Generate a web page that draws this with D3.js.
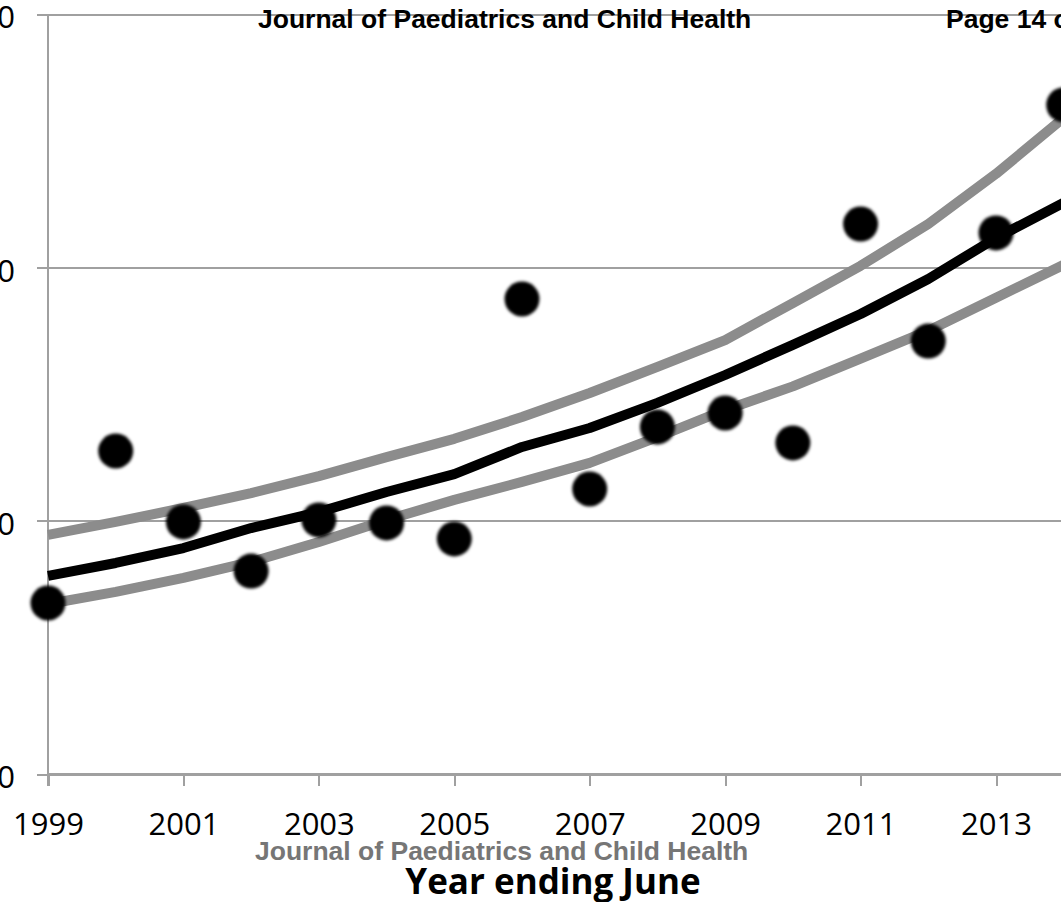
<!DOCTYPE html>
<meta charset="utf-8">
<style>
body { margin: 0; background: #fff; }
svg { display: block; }
.axis text { font-family: "Open Sans", sans-serif; font-size: 31px; fill: #000; }
.axis path, .axis line { fill: none; stroke: #a0a0a0; stroke-width: 2px; shape-rendering: crispEdges; }
.grid line { stroke: #a0a0a0; stroke-width: 2px; shape-rendering: crispEdges; }
.grid path { display: none; }
.watermark { font-family: "Liberation Sans", Arial, sans-serif; font-weight: bold; font-size: 26.5px; }
.title { font-family: "Open Sans", sans-serif; font-weight: bold; font-size: 35px; }
</style>
<body>
<svg></svg>
<script src="https://d3js.org/d3.v7.min.js"></script>
<script>

// data
var years    = [1999, 2000, 2001, 2002, 2003, 2004, 2005, 2006, 2007, 2008, 2009, 2010, 2011, 2012, 2013, 2014];
var observed = [6.75, 12.75, 9.95, 8.01, 10.03, 9.91, 9.28, 18.75, 11.25, 13.70, 14.25, 13.07, 21.71, 17.09, 21.36, 26.41];
var fitted   = [7.82, 8.33, 8.92, 9.71, 10.34, 11.13, 11.84, 12.91, 13.66, 14.65, 15.75, 16.94, 18.16, 19.54, 21.16, 22.55];
var upperCI  = [9.44, 9.95, 10.50, 11.09, 11.76, 12.51, 13.23, 14.09, 15.04, 16.07, 17.13, 18.59, 20.06, 21.71, 23.69, 25.90];
var lowerCI  = [6.71, 7.19, 7.74, 8.37, 9.16, 10.03, 10.82, 11.53, 12.28, 13.30, 14.37, 15.30, 16.40, 17.50, 18.80, 20.10];
var xTicks   = [1999, 2001, 2003, 2005, 2007, 2009, 2011, 2013];
var yTicks   = [0, 10, 20, 30];

var width = 1061, height = 902;

var svg = d3.select("svg")
    .attr("width", width)
    .attr("height", height);

var x = d3.scaleLinear()
    .domain([1999, 2013])
    .range([48, 996]);

var y = d3.scaleLinear()
    .domain([0, 30])
    .range([774, 14]);

// horizontal gridlines
svg.append("g")
    .attr("class", "grid")
    .attr("transform", "translate(" + x(1999) + ",0)")
    .call(d3.axisLeft(y).tickValues(yTicks).tickSize(-(width - x(1999))).tickFormat(""));

// y axis
var yAxis = svg.append("g")
    .attr("class", "axis")
    .attr("transform", "translate(" + x(1999) + ",0)")
    .call(d3.axisLeft(y).tickValues(yTicks).tickSize(11).tickPadding(22).tickFormat(d3.format("d")));
yAxis.select(".domain").attr("d", "M0," + y(30) + "V" + (y(0) + 12));
yAxis.selectAll("text").attr("dy", "0.45em");

// x axis
var xAxis = svg.append("g")
    .attr("class", "axis")
    .attr("transform", "translate(0," + y(0) + ")")
    .call(d3.axisBottom(x).tickValues(xTicks).tickSize(12).tickSizeOuter(0).tickPadding(27).tickFormat(d3.format("d")));
xAxis.select(".domain").attr("d", "M" + x(1999) + ",0H" + width);

var rows = years.map(function(yr, i) {
  return {year: yr, obs: observed[i], fit: fitted[i], hi: upperCI[i], lo: lowerCI[i]};
});

function lineFor(key) {
  return d3.line()
    .x(function(d) { return x(d.year); })
    .y(function(d) { return y(d[key]); });
}

[["hi", "#8c8c8c"], ["lo", "#8c8c8c"], ["fit", "#000"]].forEach(function(s) {
  svg.append("path")
      .datum(rows)
      .attr("fill", "none")
      .attr("stroke", s[1])
      .attr("stroke-width", 10)
      .attr("stroke-linejoin", "round")
      .attr("d", lineFor(s[0]));
});

var defs = svg.append("defs");
var blur = defs.append("filter").attr("id", "soft")
    .attr("x", "-30%").attr("y", "-30%").attr("width", "160%").attr("height", "160%");
blur.append("feGaussianBlur").attr("stdDeviation", 1.5);

svg.selectAll(".dot")
    .data(rows)
  .enter().append("circle")
    .attr("class", "dot")
    .attr("cx", function(d) { return x(d.year); })
    .attr("cy", function(d) { return y(d.obs); })
    .attr("r", 17.5)
    .attr("fill", "#000")
    .attr("filter", "url(#soft)");

// axis title
svg.append("text")
    .attr("class", "title")
    .attr("x", 553)
    .attr("y", 894)
    .attr("text-anchor", "middle")
    .text("Year ending June");

// page header / footer from the journal proof
svg.append("text")
    .attr("class", "watermark")
    .attr("x", 258)
    .attr("y", 28)
    .attr("fill", "#000")
    .text("Journal of Paediatrics and Child Health");

svg.append("text")
    .attr("class", "watermark")
    .attr("x", 946)
    .attr("y", 28)
    .attr("fill", "#000")
    .text("Page 14 of 14");

svg.append("text")
    .attr("class", "watermark")
    .attr("x", 255)
    .attr("y", 860)
    .attr("fill", "#767676")
    .text("Journal of Paediatrics and Child Health");

</script>
